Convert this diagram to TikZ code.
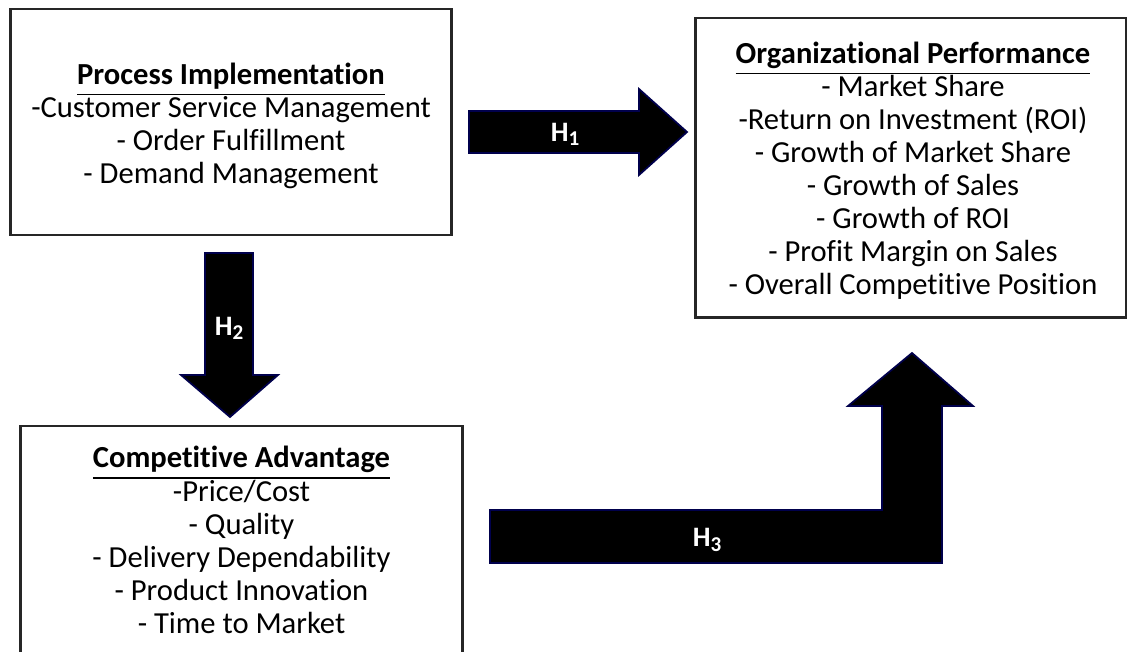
\documentclass[tikz,border=0pt]{standalone}
\usepackage{fontspec}
\setmainfont[Ligatures=NoCommon]{Carlito}
\usepackage{tikz}

\newcommand{\boxtitle}[1]{\textbf{\smash{\underline{#1}}\vphantom{#1}}}

\tikzset{
	box/.style={draw=black!85, line width=0.8pt, fill=white, inner sep=0pt},
	boxtext/.style={align=center, inner sep=0pt, font=\fontsize{8.7}{9.4}\selectfont},
	blockarrow/.style={fill=black, draw=blue!30!black, line width=0.5pt, line join=miter},
	hlabel/.style={text=white, font=\fontsize{8}{9}\selectfont\bfseries}
}

\begin{document}
\begin{tikzpicture}[x=0.01cm, y=-0.01cm]
	\useasboundingbox (0,0) rectangle (1127,651);
	\fill [white] (0,0) rectangle (1127,651);

	% boxes
	\node [box, minimum width=4.41cm, minimum height=2.26cm] (proc) at (231,122) {};
	\node [box, minimum width=4.41cm, minimum height=2.32cm] (comp) at (241.5,542) {};
	\node [box, minimum width=4.31cm, minimum height=2.99cm] (perf) at (911,167.5) {};
	% label
	\node [boxtext] (proctext) at (231,126)
		{\boxtitle{Process Implementation}\\
		 -Customer Service Management\\
		 - Order Fulfillment\\
		 - Demand Management};
	\node [boxtext] (comptext) at (241.5,540)
		{\boxtitle{Competitive Advantage}\\
		 -Price/Cost\\
		 - Quality\\
		 - Delivery Dependability\\
		 - Product Innovation\\
		 - Time to Market};
	\node [boxtext] (perftext) at (913,171)
		{\boxtitle{Organizational Performance}\\
		 - Market Share\\
		 -Return on Investment (ROI)\\
		 - Growth of Market Share\\
		 - Growth of Sales\\
		 - Growth of ROI\\
		 - Profit Margin on Sales\\
		 - Overall Competitive Position};

	% H1
	\draw [blockarrow] (469,111) -- (639,111) -- (639,89) -- (687,132)
		-- (639,175) -- (639,153) -- (469,153) -- cycle;
	\node [hlabel] (h1) at (566,134) {H\textsubscript{1}};
	% H2
	\draw [blockarrow] (205,253) -- (253,253) -- (253,375) -- (278,375)
		-- (230,417) -- (181,375) -- (205,375) -- cycle;
	\node [hlabel] (h2) at (230,328) {H\textsubscript{2}};
	% H3
	\draw [blockarrow] (490,510) -- (882,510) -- (882,406) -- (848,406) -- (912,353)
		-- (973,406) -- (942,406) -- (942,563) -- (490,563) -- cycle;
	\node [hlabel] (h3) at (708,540) {H\textsubscript{3}};
\end{tikzpicture}
\end{document}
